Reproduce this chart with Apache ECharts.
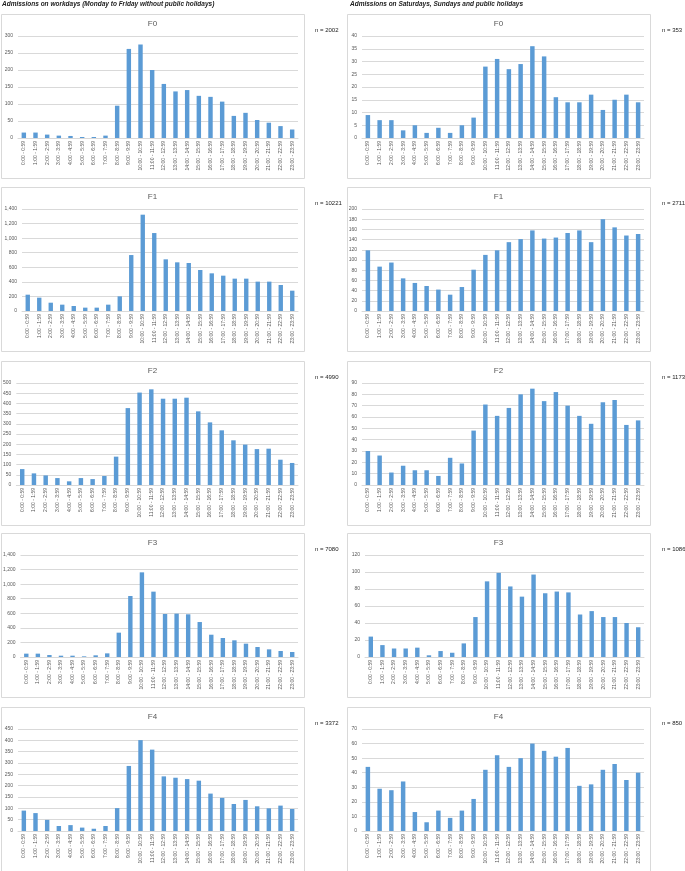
<!DOCTYPE html>
<html>
<head>
<meta charset="utf-8">
<script src="https://cdn.jsdelivr.net/npm/echarts@6/dist/echarts.min.js"></script>
<style>
  html, body { margin: 0; padding: 0; background: #fff; }
  #chart { width: 685px; height: 871px; }
</style>
</head>
<body>
<div id="chart"></div>
<script>
// hour slots on the x axis
const hours = [
  '0:00 - 0:59', '1:00 - 1:59', '2:00 - 2:59', '3:00 - 3:59', '4:00 - 4:59', '5:00 - 5:59',
  '6:00 - 6:59', '7:00 - 7:59', '8:00 - 8:59', '9:00 - 9:59', '10:00 - 10:59', '11:00 - 11:59',
  '12:00 - 12:59', '13:00 - 13:59', '14:00 - 14:59', '15:00 - 15:59', '16:00 - 16:59', '17:00 - 17:59',
  '18:00 - 18:59', '19:00 - 19:59', '20:00 - 20:59', '21:00 - 21:59', '22:00 - 22:59', '23:00 - 23:59'
];

// workdays
const workF0 = [16, 16, 10, 7, 6, 3, 3, 7, 95, 262, 275, 200, 159, 137, 141, 124, 121, 107, 65, 74, 53, 45, 35, 25];
const workF1 = [224, 183, 114, 87, 69, 46, 46, 87, 201, 768, 1322, 1070, 709, 668, 659, 563, 517, 485, 444, 444, 403, 403, 357, 279];
const workF2 = [78, 57, 47, 34, 18, 34, 29, 44, 139, 377, 453, 469, 423, 423, 428, 361, 307, 268, 219, 198, 176, 178, 124, 108];
const workF3 = [46, 46, 27, 18, 18, 9, 23, 50, 334, 837, 1162, 897, 590, 595, 586, 480, 306, 261, 229, 183, 137, 105, 82, 69];
const workF4 = [90, 79, 49, 22, 26, 15, 10, 22, 101, 287, 401, 359, 241, 235, 229, 222, 165, 146, 119, 137, 109, 100, 112, 97];

// saturdays, sundays, public holidays
const weekF0 = [9, 7, 7, 3, 5, 2, 4, 2, 5, 8, 28, 31, 27, 29, 36, 32, 16, 14, 14, 17, 11, 15, 17, 14];
const weekF1 = [119, 87, 95, 64, 55, 49, 42, 32, 47, 81, 110, 119, 135, 141, 158, 142, 144, 153, 158, 135, 180, 164, 148, 151];
const weekF2 = [30, 26, 11, 17, 13, 13, 8, 24, 19, 48, 71, 61, 68, 80, 85, 74, 82, 70, 61, 54, 73, 75, 53, 57];
const weekF3 = [24, 14, 10, 10, 11, 2, 7, 5, 16, 47, 89, 99, 83, 71, 97, 75, 77, 76, 50, 54, 47, 47, 40, 35];
const weekF4 = [44, 29, 28, 34, 13, 6, 14, 9, 14, 22, 42, 52, 44, 50, 60, 55, 51, 57, 31, 32, 42, 46, 35, 40];

const titles = ['F0', 'F1', 'F2', 'F3', 'F4'];
const workN = ['n = 2002', 'n = 10221', 'n = 4990', 'n = 7080', 'n = 3372'];
const weekN = ['n = 353', 'n = 2711', 'n = 1173', 'n = 1086', 'n = 850'];
const workMax = [300, 1400, 500, 1400, 450];
const workStep = [50, 200, 50, 200, 50];
const weekMax = [40, 200, 90, 120, 70];
const weekStep = [5, 20, 10, 20, 10];

const workSeries = [workF0, workF1, workF2, workF3, workF4];
const weekSeries = [weekF0, weekF1, weekF2, weekF3, weekF4];

const FONT = '"Liberation Sans", Arial, sans-serif';
const BLUE = '#5b9bd5';
const GRID = '#d9d9d9';
const LABEL = '#595959';

const panelTops = [14, 187, 361, 533, 707];
const leftGridX = [18, 22, 16, 20, 18];
const rightGridX = [362, 362, 362, 365, 362];

const grids = [], xAxes = [], yAxes = [], series = [], graphics = [];

graphics.push(
  { type: 'text', x: 2, y: 4, style: { text: 'Admissions on workdays (Monday to Friday without public holidays)', fontSize: 6.5, fontStyle: 'italic', fontWeight: 'bold', fontFamily: FONT, fill: '#222', verticalAlign: 'middle' } },
  { type: 'text', x: 350, y: 4, style: { text: 'Admissions on Saturdays, Sundays and public holidays', fontSize: 6.5, fontStyle: 'italic', fontWeight: 'bold', fontFamily: FONT, fill: '#222', verticalAlign: 'middle' } }
);

function addPanel(col, row) {
  const top = panelTops[row];
  const boxX = col === 0 ? 1 : 347;
  const boxW = 303;
  const data = col === 0 ? workSeries[row] : weekSeries[row];
  const max = col === 0 ? workMax[row] : weekMax[row];
  const step = col === 0 ? workStep[row] : weekStep[row];
  const gx = col === 0 ? leftGridX[row] : rightGridX[row];
  const gRight = col === 0 ? 298 : 644;
  const idx = grids.length;

  graphics.push({
    type: 'rect', shape: { x: boxX + 0.5, y: top + 0.5, width: boxW, height: 164 },
    style: { fill: 'none', stroke: GRID, lineWidth: 1 }, silent: true
  });
  graphics.push({
    type: 'text', x: boxX + boxW / 2, y: top + 10,
    style: { text: titles[row], fontSize: 8, fontFamily: FONT, fill: LABEL, align: 'center', verticalAlign: 'middle' }
  });
  graphics.push({
    type: 'text', x: col === 0 ? 315 : 662, y: top + 16,
    style: { text: col === 0 ? workN[row] : weekN[row], fontSize: 6, fontFamily: FONT, fill: '#222', verticalAlign: 'middle' }
  });

  grids.push({ left: gx, top: top + 22, width: gRight - gx, height: 102, containLabel: false });
  xAxes.push({
    type: 'category', gridIndex: idx, data: hours,
    axisLine: { lineStyle: { color: GRID } },
    axisTick: { show: false },
    axisLabel: { interval: 0, rotate: 90, fontSize: 5, color: LABEL, fontFamily: FONT, margin: 3 }
  });
  yAxes.push({
    type: 'value', gridIndex: idx, min: 0, max: max, interval: step,
    axisLine: { show: false }, axisTick: { show: false },
    axisLabel: { fontSize: 5, color: LABEL, fontFamily: FONT, margin: 5, formatter: v => v.toLocaleString('en-US') },
    splitLine: { lineStyle: { color: GRID, width: 1 } }
  });
  series.push({
    type: 'bar', xAxisIndex: idx, yAxisIndex: idx, data: data,
    barWidth: '38%', itemStyle: { color: BLUE }, silent: true, animation: false
  });
}

for (let r = 0; r < 5; r++) {
  addPanel(0, r);
  addPanel(1, r);
}

const chart = echarts.init(document.getElementById('chart'), null, { renderer: 'canvas' });
chart.setOption({
  backgroundColor: '#fff',
  animation: false,
  grid: grids,
  xAxis: xAxes,
  yAxis: yAxes,
  series: series,
  graphic: graphics
});
</script>
</body>
</html>
